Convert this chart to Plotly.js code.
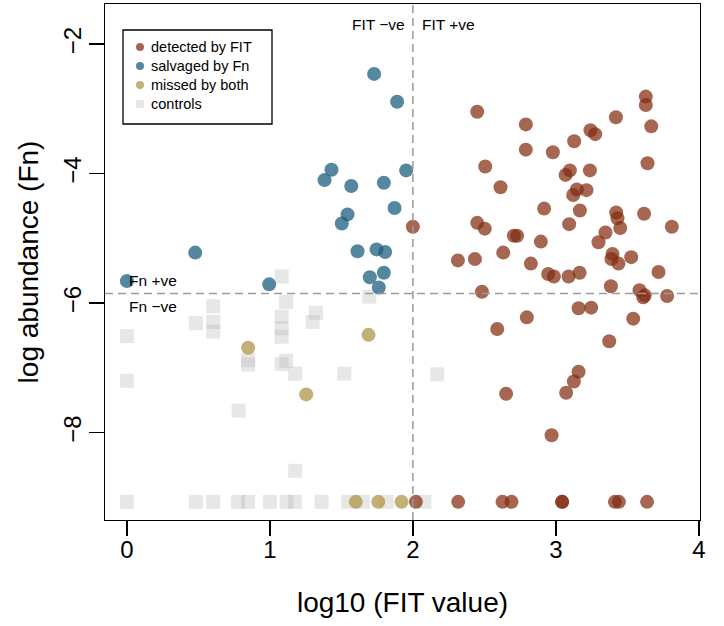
<!DOCTYPE html>
<html>
<head>
<meta charset="utf-8">
<script src="https://cdn.plot.ly/plotly-3.0.1.min.js"></script>
<style>html,body{margin:0;padding:0;background:#fff;}#chart{width:724px;height:626px;}</style>
</head>
<body>
<div id="chart"></div>
<script>
// ---- data ----
const detectedX = [2.450,2.790,3.629,3.629,3.420,3.667,3.242,3.275,3.128,2.790,2.979,2.506,3.641,3.098,3.068,3.238,2.613,3.147,3.214,3.121,2.918,3.168,3.422,3.617,3.431,2.450,2.503,3.093,3.450,3.811,2.706,2.729,2.895,3.347,3.298,2.632,2.315,2.434,3.396,3.389,3.438,3.527,2.825,3.718,2.946,2.986,3.089,3.166,2.000,
  2.483,3.385,3.585,3.611,3.622,3.778,3.159,3.247,2.797,3.541,2.590,3.373,3.159,3.126,3.072,2.652,2.970,
  2.021,2.317,2.627,2.690,3.044,3.044,3.413,3.441,3.638];
const detectedY = [-3.045,-3.24,-2.81,-2.94,-3.13,-3.27,-3.33,-3.39,-3.50,-3.63,-3.67,-3.89,-3.84,-3.95,-4.02,-3.95,-4.21,-4.245,-4.255,-4.33,-4.54,-4.57,-4.60,-4.62,-4.69,-4.76,-4.85,-4.78,-4.84,-4.82,-4.96,-4.96,-5.05,-4.91,-5.06,-5.22,-5.34,-5.32,-5.24,-5.32,-5.39,-5.29,-5.39,-5.52,-5.55,-5.59,-5.59,-5.53,-4.82,
  -5.825,-5.74,-5.80,-5.91,-5.88,-5.89,-6.08,-6.07,-6.22,-6.24,-6.40,-6.59,-7.06,-7.21,-7.385,-7.40,-8.04,
  -9.07,-9.07,-9.07,-9.07,-9.07,-9.07,-9.07,-9.07,-9.07];

const salvagedX = [1.729,1.890,1.431,1.382,1.569,1.797,1.953,1.872,1.543,1.503,1.613,1.746,1.806,1.797,1.699,1.762,0.995,0.478,0.000];
const salvagedY = [-2.46,-2.89,-3.94,-4.10,-4.19,-4.14,-3.95,-4.53,-4.63,-4.77,-5.20,-5.17,-5.21,-5.53,-5.60,-5.76,-5.71,-5.22,-5.66];

const missedX = [0.848,1.690,1.254,1.601,1.758,1.921];
const missedY = [-6.69,-6.49,-7.41,-9.07,-9.07,-9.07];

const controlX = [1.082,0.604,1.114,1.695,0.483,0.604,0.604,1.082,1.082,1.082,1.322,1.299,0.000,0.000,0.848,0.848,1.082,1.114,1.177,1.520,0.781,1.177,2.170,
  0.000,0.483,0.604,0.778,0.848,1.000,1.117,1.175,1.361,1.548,1.650,1.816,2.080];
const controlY = [-5.59,-6.05,-5.98,-5.90,-6.31,-6.29,-6.44,-6.21,-6.39,-6.52,-6.15,-6.29,-6.51,-7.20,-6.88,-6.95,-6.94,-6.89,-7.09,-7.09,-7.66,-8.59,-7.10,
  -9.07,-9.07,-9.07,-9.07,-9.07,-9.07,-9.07,-9.07,-9.07,-9.07,-9.07,-9.07,-9.07];

const legendLabels = ["detected by FIT","salvaged by Fn","missed by both","controls"];
const xTicks = [0,1,2,3,4];
const yTicks = [-8,-6,-4,-2];
const fitCut = 2;
const fnCut = -5.85;

// ---- styles ----
const FONT = "Liberation Sans, Arial, Helvetica, sans-serif";
const cBrown = "rgba(130,45,15,0.72)";
const cBlue = "rgba(28,95,125,0.75)";
const cTan = "rgba(175,150,72,0.75)";
const cGray = "rgba(175,175,175,0.30)";
const MS = 14;

const traces = [
  {x: controlX, y: controlY, type: "scatter", mode: "markers", name: legendLabels[3],
   marker: {symbol: "square", size: MS, color: cGray, line: {width: 0}}},
  {x: detectedX, y: detectedY, type: "scatter", mode: "markers", name: legendLabels[0],
   marker: {symbol: "circle", size: MS, color: cBrown, line: {width: 0}}},
  {x: salvagedX, y: salvagedY, type: "scatter", mode: "markers", name: legendLabels[1],
   marker: {symbol: "circle", size: MS, color: cBlue, line: {width: 0}}},
  {x: missedX, y: missedY, type: "scatter", mode: "markers", name: legendLabels[2],
   marker: {symbol: "circle", size: MS, color: cTan, line: {width: 0}}}
];

// manual legend box (paper coordinates)
const M = {l: 105, r: 24, t: 4, b: 106};
const W = 724, H = 626;
const pw = W - M.l - M.r, ph = H - M.t - M.b;
const px = v => (v - M.l) / pw;
const py = v => 1 - (v - M.t) / ph;

const legendColors = [cBrown, cBlue, cTan, cGray];
const rowY = [47, 66, 85, 104];
const shapes = [
  {type: "line", xref: "x", yref: "paper", x0: fitCut, x1: fitCut, y0: 0, y1: 1,
   line: {color: "#9a9a9a", width: 1.5, dash: "8px,5px"}},
  {type: "line", xref: "paper", yref: "y", x0: 0, x1: 1, y0: fnCut, y1: fnCut,
   line: {color: "#9a9a9a", width: 1.5, dash: "8px,5px"}},
  {type: "rect", xref: "paper", yref: "paper", x0: px(123), x1: px(272), y0: py(124), y1: py(30),
   line: {color: "#000", width: 1.3}, fillcolor: "rgba(255,255,255,0)"}
];
const annotations = [];
legendLabels.forEach((lab, i) => {
  const isSq = i === 3;
  shapes.push({type: isSq ? "rect" : "circle", xref: "paper", yref: "paper",
    xsizemode: "pixel", ysizemode: "pixel", xanchor: px(140), yanchor: py(rowY[i]),
    x0: -4, x1: 4, y0: -4, y1: 4, line: {width: 0}, fillcolor: legendColors[i]});
  annotations.push({xref: "paper", yref: "paper", x: px(149), y: py(rowY[i]),
    xanchor: "left", yanchor: "middle", text: lab, showarrow: false,
    font: {family: FONT, size: 14.5, color: "#000"}});
});
const annFont = {family: FONT, size: 15.5, color: "#000"};
annotations.push(
  {xref: "x", yref: "paper", x: fitCut, y: py(25), xanchor: "right", yanchor: "middle", xshift: -6,
   text: "FIT \u2212ve", showarrow: false, font: annFont},
  {xref: "x", yref: "paper", x: fitCut, y: py(25), xanchor: "left", yanchor: "middle", xshift: 7,
   text: "FIT +ve", showarrow: false, font: annFont},
  {xref: "x", yref: "y", x: 0, y: fnCut, xanchor: "left", yanchor: "middle", xshift: 0, yshift: 13,
   text: "Fn +ve", showarrow: false, font: annFont},
  {xref: "x", yref: "y", x: 0, y: fnCut, xanchor: "left", yanchor: "middle", xshift: 0, yshift: -13,
   text: "Fn \u2212ve", showarrow: false, font: annFont}
);

const axisCommon = {
  showgrid: false, zeroline: false, showline: true, mirror: true,
  linecolor: "#000", linewidth: 1.3, ticks: "outside", ticklen: 15, tickwidth: 1.3, tickcolor: "#000",
  tickfont: {family: FONT, size: 24, color: "#000"}, automargin: false
};

const layout = {
  width: W, height: H,
  margin: M,
  paper_bgcolor: "#fff", plot_bgcolor: "#fff",
  showlegend: false,
  font: {family: FONT},
  xaxis: Object.assign({}, axisCommon, {
    range: [-0.153, 4.008], tickvals: xTicks, ticktext: xTicks.map(String), ticklabelstandoff: -7,
    title: {text: "log10 (FIT value)", font: {family: FONT, size: 28, color: "#000"}, standoff: 30}
  }),
  yaxis: Object.assign({}, axisCommon, {
    range: [-9.35, -1.38], tickvals: yTicks, tickangle: -90, ticklabelstandoff: -2,
    title: {text: "log abundance (Fn)", font: {family: FONT, size: 28, color: "#000"}, standoff: 12}
  }),
  shapes: shapes,
  annotations: annotations
};

Plotly.newPlot("chart", traces, layout, {displayModeBar: false, staticPlot: true});
</script>
</body>
</html>
